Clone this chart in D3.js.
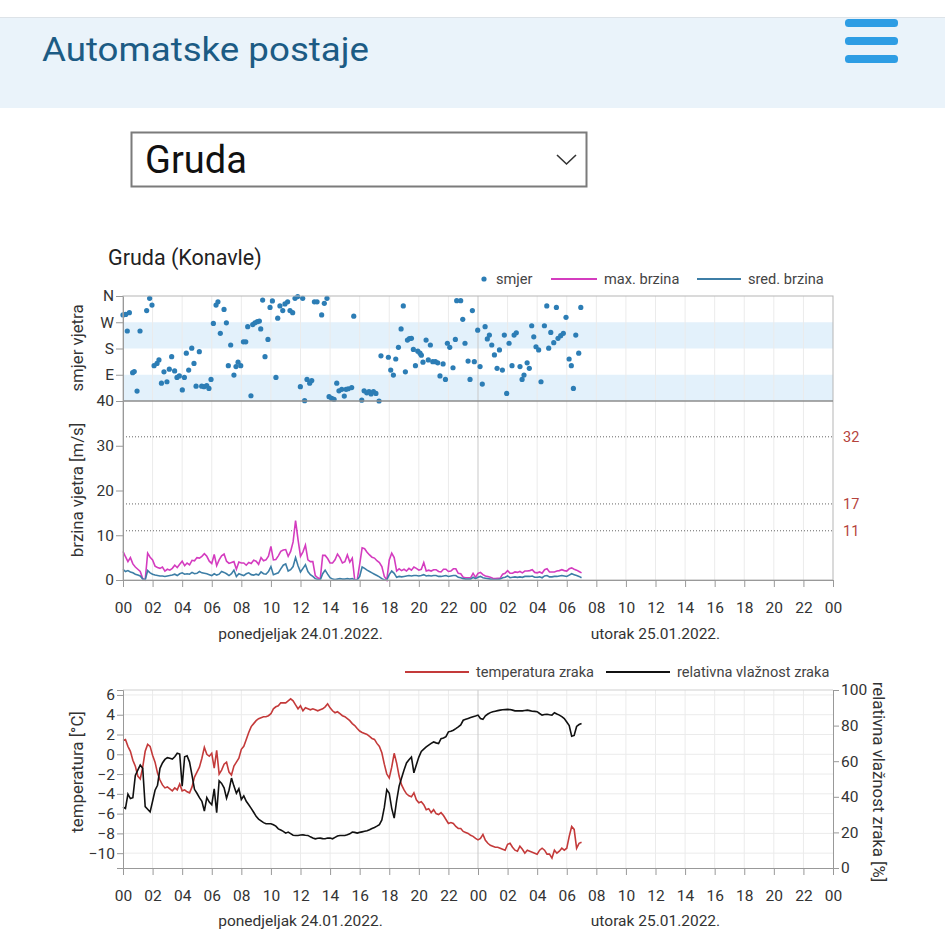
<!DOCTYPE html>
<html>
<head>
<meta charset="utf-8">
<script src="https://cdn.jsdelivr.net/npm/d3@7"></script>
<style>
body { margin: 0; background: #fff; }
svg text { font-family: Roboto, "Noto Sans", sans-serif; }
</style>
</head>
<body>
<svg id="page" width="945" height="942"></svg>
<script>
// 10 minute samples, starting 24.01.2022. 00:00
var STEP = 1 / 6;

var maxSpeed = [6.4,5.2,4.1,5.0,3.6,2.9,2.4,1.9,0.3,0,
    6.0,5.1,4.5,3.1,2.8,2.6,2.9,2.0,2.4,2.2,
    2.6,3.3,2.8,3.5,4.2,3.2,3.8,3.4,4.4,4.3,
    5.0,4.9,5.3,5.9,5.3,4.2,3.7,5.7,3.2,4.5,
    5.4,5.8,4.2,3.7,3.9,4.1,2.4,4.0,3.8,3.8,
    3.3,3.9,3.7,4.4,4.2,3.5,5.0,4.3,4.5,5.3,
    7.5,4.5,4.6,5.4,6.4,6.7,6.8,5.3,6.4,8.5,
    13.3,9.0,5.3,6.3,7.8,4.5,4.1,4.1,1.0,0.5,
    0.2,5.5,5.5,4.8,3.8,3.8,4.5,5.8,5.0,3.8,
    4.1,5.6,4.0,4.9,0,0,3.5,7.2,7.0,6.2,
    5.6,5.1,4.9,4.3,3.9,3.0,0.8,0,4.5,6.0,
    5.0,2.0,2.5,2.1,2.4,2.0,2.6,2.2,2.9,2.6,
    2.2,2.4,3.9,2.0,2.2,2.0,2.3,2.3,1.9,1.8,
    2.4,2.4,1.9,2.0,2.5,2.5,1.5,1.4,0.6,0.5,
    0.5,0.5,1.5,0.6,1.5,1.7,1.2,0.9,0.8,0.6,
    0.4,0.3,0.4,0.4,1.3,1.5,2.1,1.5,1.5,1.8,
    1.7,1.9,1.6,2.0,2.0,2.1,2.3,1.7,1.6,1.8,
    1.5,2.3,2.5,1.8,1.8,1.8,2.0,2.1,2.3,2.1,
    2.0,2.5,2.7,2.4,2.2,1.9,1.6];

var meanSpeed = [2.4,1.9,2.1,1.8,1.6,1.3,1.1,0.9,0.2,0,
    2.1,1.6,1.3,1.1,1.0,0.9,0.9,0.8,0.9,1.0,
    1.1,1.3,1.0,1.4,1.6,1.3,1.4,1.3,1.7,1.4,
    1.5,1.9,1.6,1.5,1.4,1.2,1.0,1.4,1.1,1.3,
    1.9,1.7,1.4,1.0,1.4,2.2,0.8,1.4,1.2,1.0,
    1.4,1.6,1.2,1.1,1.3,1.1,1.8,1.4,1.3,1.9,
    3.0,1.2,1.4,1.6,2.5,3.3,3.6,2.0,2.3,3.0,
    5.0,3.2,1.8,2.6,3.4,1.9,1.2,0.8,0.3,0.1,
    0,1.4,2.2,1.3,0.5,0.2,0.1,0.2,0.3,0.2,
    0.2,0.3,0.2,0.3,0,0,0.8,2.9,2.6,2.2,
    1.9,1.6,1.3,1.0,0.7,0.3,0,0,1.2,2.0,
    1.5,0.6,0.8,0.7,0.8,0.9,1.0,0.9,1.0,1.0,
    0.9,1.0,1.2,0.9,1.0,0.9,1.0,1.0,0.8,0.8,
    0.9,1.0,0.8,0.9,1.0,1.0,0.6,0.5,0.3,0.2,
    0.2,0.2,0.6,0.3,0.6,0.8,0.5,0.4,0.3,0.2,
    0.1,0.1,0.1,0.2,0.5,0.6,0.9,0.5,0.6,0.7,
    0.6,0.7,0.6,0.8,0.8,0.8,0.9,0.6,0.6,0.7,
    0.5,0.9,1.0,0.7,0.7,0.8,0.8,0.9,1.0,0.9,
    0.8,1.1,1.4,1.2,1.0,0.8,0.5];

var temperature = [1.4,1.5,0.8,0.3,-0.6,-1.2,-2.2,-2.5,-1.3,0.3,
    1.0,0.8,-0.1,-0.8,-1.9,-2.6,-3.1,-3.4,-3.3,-3.5,
    -3.7,-3.4,-3.6,-3.0,-3.7,-3.6,-3.8,-3.9,-3.3,-2.3,
    -1.8,-1.3,-0.4,0.7,0.0,-0.2,0.1,-1.4,0.4,-2.0,
    -1.6,-1.0,-0.8,-1.8,-2.1,-1.2,-0.8,-0.4,0.5,0.8,
    1.5,2.2,2.8,3.1,3.4,3.6,3.7,3.8,3.8,3.9,
    4.1,4.6,4.8,4.9,5.2,5.2,5.2,5.4,5.6,5.4,
    5.0,4.6,4.9,4.4,4.7,4.6,4.5,4.6,4.5,4.4,
    4.5,4.6,4.8,5.1,4.7,4.4,4.2,4.3,4.1,3.9,
    3.8,3.6,3.4,3.1,2.9,2.6,2.35,2.2,2.1,2.0,
    1.8,1.6,1.5,1.1,0.8,0.15,-1.0,-2.0,-2.4,-1.3,
    0.1,-0.9,-2.2,-3.1,-3.6,-4.0,-4.2,-4.3,-3.9,-4.6,
    -4.9,-4.8,-5.1,-5.6,-5.5,-5.9,-5.6,-6.0,-6.1,-5.9,
    -6.2,-6.6,-7.0,-6.9,-7.0,-7.3,-7.5,-7.5,-7.8,-7.9,
    -8.0,-8.2,-8.3,-8.5,-8.65,-8.5,-8.1,-8.7,-9.0,-9.2,
    -9.3,-9.4,-9.4,-9.5,-9.6,-9.7,-9.1,-9.0,-9.4,-9.7,
    -9.8,-9.3,-9.6,-10.0,-9.7,-9.8,-9.9,-10.0,-10.1,-9.7,
    -9.5,-9.7,-10.1,-10.1,-10.5,-9.7,-10.0,-9.8,-9.5,-9.7,
    -9.5,-8.3,-7.3,-7.6,-9.5,-9.0,-8.9];

var humidity = [34.3,33.5,41.5,39,39.5,52,55,57.8,56,34.5,
    33,31.5,37.5,43.7,46.5,56,59,61,62,61.6,
    61.2,62.5,64.5,64,46,62.5,63,59.5,52,44.2,
    42,39.5,37.5,32,39.5,37,35.5,44.5,31.1,49,
    47.5,45,39.2,43.7,50.5,46,42,44.5,38.5,40.5,
    37.5,35.5,33.5,31.3,29,27.5,26.5,25.5,24.9,24.9,
    24.9,24.3,23.5,22,21.3,20.6,19.6,20.2,19.3,18.4,
    18.3,18.3,18.5,18.6,18.4,18.3,17.5,16.9,16.4,16.7,
    16.8,16.5,16.4,16.8,16.8,16.4,17.2,18,18.3,18.3,
    18.3,18.7,19.2,20.2,20,19.6,20,20.3,20.6,20.9,
    21.5,22.2,22.8,23.5,24.4,27,34,44,42,33.5,
    28,37.9,46,50.5,55,59,60.8,62.3,53.5,58,
    62.3,65.5,66.8,68,69,70,70.8,70.3,69.9,72.7,
    73,73.8,76.5,76.8,77.4,78.3,79.3,80.4,83,83.5,
    84,84.5,85,85.4,85.9,84,83.5,85.5,86.5,87.3,
    87.8,88.1,88.4,88.7,88.9,89,89.1,89,88.7,88.3,
    88.3,88.3,88.3,88.5,88.7,88.4,88.1,88,87.8,86.8,
    85.9,86.2,86.4,86.1,85.9,87.2,86.5,85.9,85,84,
    82,80,74,74.5,79.5,80.6,81.2];

// wind direction readings: hour since 24.01. 00:00 and degrees
var dirTime = [0.0,0.18,0.29,0.43,0.65,0.76,0.95,1.15,1.6,1.8,1.96,2.1,2.3,2.43,2.6,2.77,2.97,3.13,3.29,3.49,
    3.65,3.81,4.01,4.15,4.28,4.44,4.65,4.8,4.94,5.16,5.32,5.48,5.66,5.81,5.95,6.11,6.29,6.42,6.58,6.83,
    6.99,7.12,7.28,7.5,7.64,7.78,7.96,8.14,8.3,8.43,8.65,8.77,8.92,9.08,9.22,9.31,9.44,9.6,9.8,9.94,
    10.1,10.34,10.46,10.61,10.8,10.95,11.13,11.29,11.47,11.63,11.81,11.99,12.15,12.28,12.44,12.62,12.76,12.94,13.12,13.43,
    13.61,13.79,13.93,14.11,14.27,14.45,14.6,14.79,14.96,15.08,15.23,15.46,15.6,16.14,16.3,16.48,16.63,16.77,16.93,17.1,
    17.31,17.44,17.94,18.1,18.28,18.44,18.62,18.8,18.95,19.09,19.23,19.36,19.5,19.63,19.77,19.93,20.08,20.17,20.28,20.49,
    20.64,20.78,20.94,21.12,21.28,21.43,21.64,21.8,21.93,22.09,22.31,22.47,22.56,22.83,22.97,23.12,23.33,23.46,23.62,23.75,
    23.98,24.14,24.29,24.48,24.63,24.77,24.93,25.11,25.29,25.45,25.65,25.78,25.94,26.1,26.3,26.44,26.59,26.84,26.98,27.11,
    27.32,27.47,27.63,27.77,27.92,28.1,28.26,28.49,28.65,28.78,28.92,29.12,29.3,29.41,29.59,29.77,29.95,30.16,30.31,30.45,
    30.61,30.81,30.95];
var dirDeg = [295,297,240,303,97,101,34,240,310,352,329,121,129,141,61,100,66,109,152,103,
    81,86,38,81,164,106,181,129,51,169,51,49,53,43,74,266,329,340,232,314,
    268,121,192,89,118,133,121,203,203,255,18,262,268,272,274,247,346,152,211,321,
    343,81,284,326,310,333,340,310,303,352,358,49,352,1,74,61,70,340,340,295,
    335,352,15,9,6,61,35,40,17,40,42,46,291,3,35,28,32,24,32,26,
    0,155,150,106,89,144,184,247,326,100,209,214,215,177,121,171,164,157,133,209,
    141,192,135,135,131,86,127,74,198,184,114,211,344,344,280,198,137,74,310,135,
    243,118,58,255,213,226,192,158,112,175,106,226,26,198,121,226,234,118,74,89,
    131,112,258,220,186,175,66,258,326,181,235,200,321,215,224,232,287,144,121,43,
    226,164,321];

var hourTicks = d3.range(0, 49, 2);
var dirTicks = [360, 270, 180, 90];
var dirNames = ["N", "W", "S", "E"];
var speedTicks = [0, 10, 20, 30, 40];
var speedLimits = [32, 17, 11];
var tempTicks = [-10, -8, -6, -4, -2, 0, 2, 4, 6];
var humTicks = [0, 20, 40, 60, 80, 100];
var dayNames = ["ponedjeljak 24.01.2022.", "utorak 25.01.2022."];

var svg = d3.select("#page");

//Page header
svg.append("rect").attr("x", 0).attr("y", 18).attr("width", 945).attr("height", 90).attr("fill", "#eaf3fa");
svg.append("line").attr("x1", 0).attr("x2", 945).attr("y1", 17.5).attr("y2", 17.5).attr("stroke", "#dde3e8");
svg.append("text").attr("x", 42).attr("y", 61).attr("font-size", "33px").attr("fill", "#1c5b84")
    .attr("textLength", 327).attr("lengthAdjust", "spacingAndGlyphs").text("Automatske postaje");
[19, 37, 55].forEach(function(y) {
    svg.append("rect").attr("x", 845).attr("y", y).attr("width", 53).attr("height", 8)
        .attr("rx", 3.5).attr("fill", "#2e9de4");
});

//Station select box
svg.append("rect").attr("x", 131.5).attr("y", 132.5).attr("width", 455).attr("height", 54)
    .attr("fill", "#fff").attr("stroke", "#7b7b7b").attr("stroke-width", 2);
svg.append("text").attr("x", 145).attr("y", 173).attr("font-size", "38px").attr("fill", "#111").text("Gruda");
svg.append("polyline").attr("points", "557,155 566.5,164 576,155")
    .attr("fill", "none").attr("stroke", "#333").attr("stroke-width", 1.6);

var x = d3.scaleLinear().domain([0, 48]).range([123, 833]);
var yDir = d3.scaleLinear().domain([0, 360]).range([401, 296]);
var ySpd = d3.scaleLinear().domain([0, 40]).range([580, 401]);
var yTmp = d3.scaleLinear().domain([-11.5, 6.5]).range([868, 690]);
var yHum = d3.scaleLinear().domain([0, 100]).range([868, 690]);

function pad(h) {
    var v = h % 24;
    return v < 10 ? "0" + v : "" + v;
}

function styleAxis(g) {
    g.selectAll("path").attr("stroke", "#999");
    g.selectAll("line").attr("stroke", "#999");
    g.selectAll("text").attr("fill", "#333").attr("font-size", "15.5px")
        .attr("font-family", "Roboto, 'Noto Sans', sans-serif");
}

function vGrid(top, bottom) {
    svg.append("g").selectAll("line")
        .data(hourTicks.slice(1, -1))
        .enter()
        .append("line")
        .attr("x1", function(d) { return x(d); })
        .attr("x2", function(d) { return x(d); })
        .attr("y1", top).attr("y2", bottom)
        .attr("stroke", function(d) { return d === 24 ? "#c9c9c9" : "#ebebeb"; });
}

function dayLabels(y) {
    svg.append("g").selectAll("text")
        .data(dayNames)
        .enter()
        .append("text")
        .attr("x", function(d, i) { return x(12 + i * 24); })
        .attr("y", y)
        .attr("text-anchor", "middle")
        .attr("font-size", "15.5px")
        .attr("fill", "#333")
        .text(function(d) { return d; });
}

function legendLine(x1, x2, y, color, label) {
    svg.append("line").attr("x1", x1).attr("x2", x2).attr("y1", y).attr("y2", y)
        .attr("stroke", color).attr("stroke-width", 1.8);
    svg.append("text").attr("x", x2 + 7).attr("y", y + 5).attr("font-size", "14.6px")
        .attr("fill", "#444").text(label);
}

function yLabel(cx, cy, angle, label) {
    svg.append("text")
        .attr("transform", "translate(" + cx + "," + cy + ") rotate(" + angle + ")")
        .attr("text-anchor", "middle")
        .attr("dy", "0.35em")
        .attr("font-size", "16.8px")
        .attr("fill", "#333")
        .text(label);
}

// ---------- wind chart ----------
svg.append("text").attr("x", 108).attr("y", 265).attr("font-size", "21.5px").attr("fill", "#222")
    .text("Gruda (Konavle)");

svg.append("circle").attr("cx", 484).attr("cy", 279).attr("r", 2.6).attr("fill", "#2c7db5");
svg.append("text").attr("x", 496).attr("y", 284).attr("font-size", "14.6px").attr("fill", "#444").text("smjer");
legendLine(551, 597, 279, "#d43cbf", "max. brzina");
legendLine(697, 741, 279, "#3d7ea6", "sred. brzina");

//Direction bands
[[180, 270], [0, 90]].forEach(function(b) {
    svg.append("rect").attr("x", x(0)).attr("width", x(48) - x(0))
        .attr("y", yDir(b[1])).attr("height", yDir(b[0]) - yDir(b[1]))
        .attr("fill", "#e3f1fb");
});

vGrid(296, 580);

svg.append("g").selectAll("line")
    .data(speedLimits)
    .enter()
    .append("line")
    .attr("x1", x(0)).attr("x2", x(48))
    .attr("y1", function(d) { return ySpd(d); })
    .attr("y2", function(d) { return ySpd(d); })
    .attr("stroke", "#666")
    .attr("stroke-width", 1)
    .attr("stroke-dasharray", "1,2");

svg.append("g").selectAll("text")
    .data(speedLimits)
    .enter()
    .append("text")
    .attr("x", 843)
    .attr("y", function(d) { return ySpd(d) + 5; })
    .attr("font-size", "14.5px")
    .attr("fill", "#b5433c")
    .text(function(d) { return d; });

var spdLine = d3.line()
    .x(function(d, i) { return x(i * STEP); })
    .y(function(d) { return ySpd(d); });

svg.append("path").datum(maxSpeed).attr("d", spdLine)
    .attr("fill", "none").attr("stroke", "#d43cbf").attr("stroke-width", 1.6);
svg.append("path").datum(meanSpeed).attr("d", spdLine)
    .attr("fill", "none").attr("stroke", "#3d7ea6").attr("stroke-width", 1.6);

svg.append("g").selectAll("circle")
    .data(dirDeg)
    .enter()
    .append("circle")
    .attr("cx", function(d, i) { return x(dirTime[i]); })
    .attr("cy", function(d) { return yDir(d); })
    .attr("r", 2.6)
    .attr("fill", "#2c7db5");

//Frame
svg.append("rect").attr("x", x(0)).attr("y", 296).attr("width", x(48) - x(0)).attr("height", 284)
    .attr("fill", "none").attr("stroke", "#b5b5b5");
svg.append("line").attr("x1", x(0)).attr("x2", x(48)).attr("y1", 401).attr("y2", 401)
    .attr("stroke", "#8c8c8c").attr("stroke-width", 1.5);

svg.append("g").attr("transform", "translate(123,0)")
    .call(d3.axisLeft(yDir).tickValues(dirTicks)
        .tickFormat(function(d, i) { return dirNames[i]; })
        .tickSize(7).tickPadding(2).tickSizeOuter(0))
    .call(styleAxis);

svg.append("g").attr("transform", "translate(123,0)")
    .call(d3.axisLeft(ySpd).tickValues(speedTicks).tickSize(7).tickPadding(2).tickSizeOuter(0))
    .call(styleAxis);

svg.append("g").attr("transform", "translate(0,580)")
    .call(d3.axisBottom(x).tickValues(hourTicks).tickFormat(pad)
        .tickSize(7).tickPadding(15).tickSizeOuter(0))
    .call(styleAxis);

dayLabels(639);
yLabel(77, 348, -90, "smjer vjetra");
yLabel(77, 490, -90, "brzina vjetra [m/s]");

// ---------- temperature / humidity chart ----------
legendLine(405, 469, 672, "#c43a3a", "temperatura zraka");
legendLine(606, 670, 672, "#111", "relativna vlažnost zraka");

svg.append("g").selectAll("line")
    .data(tempTicks)
    .enter()
    .append("line")
    .attr("x1", x(0)).attr("x2", x(48))
    .attr("y1", function(d) { return yTmp(d); })
    .attr("y2", function(d) { return yTmp(d); })
    .attr("stroke", "#ebebeb");

vGrid(690, 868);

svg.append("line").attr("x1", x(0)).attr("x2", x(48)).attr("y1", 690).attr("y2", 690)
    .attr("stroke", "#cfcfcf");

svg.append("path").datum(temperature)
    .attr("d", d3.line()
        .x(function(d, i) { return x(i * STEP); })
        .y(function(d) { return yTmp(d); }))
    .attr("fill", "none").attr("stroke", "#c43a3a").attr("stroke-width", 1.6);

svg.append("path").datum(humidity)
    .attr("d", d3.line()
        .x(function(d, i) { return x(i * STEP); })
        .y(function(d) { return yHum(d); }))
    .attr("fill", "none").attr("stroke", "#111").attr("stroke-width", 1.6);

svg.append("g").attr("transform", "translate(123,0)")
    .call(d3.axisLeft(yTmp).tickValues(tempTicks).tickSize(6).tickPadding(2))
    .call(styleAxis);

svg.append("g").attr("transform", "translate(833,0)")
    .call(d3.axisRight(yHum).tickValues(humTicks).tickSize(6).tickPadding(2))
    .call(styleAxis);

svg.append("g").attr("transform", "translate(0,868)")
    .call(d3.axisBottom(x).tickValues(hourTicks).tickFormat(pad)
        .tickSize(7).tickPadding(15).tickSizeOuter(0))
    .call(styleAxis);

dayLabels(926);
yLabel(77, 772, -90, "temperatura [°C]");
yLabel(879, 782, 90, "relativna vlažnost zraka [%]");
</script>
</body>
</html>
